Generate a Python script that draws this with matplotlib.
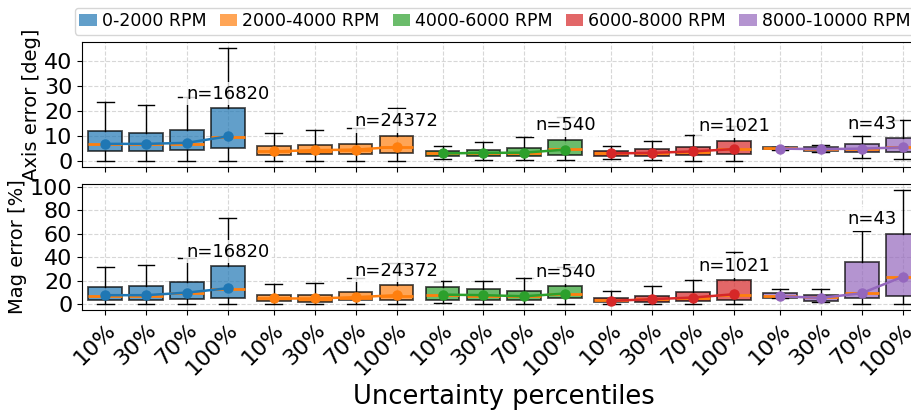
import matplotlib
matplotlib.use("Agg")
import matplotlib.pyplot as plt
from matplotlib.patches import Patch
import numpy as np

groups = ["0-2000 RPM", "2000-4000 RPM", "4000-6000 RPM", "6000-8000 RPM", "8000-10000 RPM"]
percentiles = ["10%", "30%", "70%", "100%"]
counts = [16820, 24372, 540, 1021, 43]
colors = ["tab:blue", "tab:orange", "tab:green", "tab:red", "tab:purple"]

# axis error [deg]: one row per rpm group, one column per percentile
axis_lo = [[0, 0, 0, 0], [0, 0, 0, 0], [0.7, 0.4, 0.4, 0.4], [0.7, 0.3, 0.1, 0.1], [4.6, 3.5, 1.3, 1.0]]
axis_q1 = [[4.0, 4.0, 4.3, 5.2], [2.5, 2.7, 2.9, 3.1], [2.0, 2.0, 2.2, 2.6], [2.0, 2.0, 2.3, 2.7], [5.0, 4.2, 3.8, 3.5]]
axis_med = [[6.9, 6.9, 7.0, 9.6], [3.9, 4.2, 4.5, 5.5], [3.1, 3.3, 3.3, 4.7], [3.1, 3.2, 3.8, 4.7], [5.2, 4.8, 5.0, 5.5]]
axis_q3 = [[11.9, 11.2, 12.6, 21.1], [6.0, 6.4, 6.9, 10.2], [4.2, 4.6, 5.3, 8.6], [4.0, 4.7, 5.7, 8.1], [5.5, 5.6, 6.9, 9.1]]
axis_hi = [[23.5, 22.2, 25.4, 45.2], [11.3, 12.4, 13.4, 21.1], [5.9, 7.7, 9.5, 17.6], [6.1, 8.2, 10.4, 14.0], [5.6, 6.4, 10.2, 16.4]]
axis_mean = [[6.9, 6.9, 7.3, 9.9], [3.9, 4.4, 4.6, 5.7], [3.1, 3.3, 3.4, 4.6], [3.1, 3.3, 3.9, 4.8], [5.0, 4.8, 5.0, 5.5]]

# magnitude error [%]
mag_lo = [[0, 0, 0, 0], [0, 0, 0, 0], [0.8, 0, 0, 0], [0, 0, 0, 0], [5.0, 2.0, 0.3, 0]]
mag_q1 = [[3.6, 3.6, 4.2, 5.6], [2.5, 2.2, 3.1, 3.4], [3.4, 3.6, 3.4, 4.8], [1.4, 2.0, 2.5, 3.4], [5.6, 2.5, 5.3, 7.0]]
mag_med = [[7.3, 7.3, 9.3, 13.2], [4.8, 4.6, 5.6, 7.3], [8.1, 7.3, 6.5, 9.0], [3.4, 4.0, 5.4, 8.1], [6.7, 5.9, 9.3, 23.3]]
mag_q3 = [[14.9, 15.4, 18.8, 32.3], [8.1, 8.1, 10.1, 16.0], [14.3, 12.6, 11.5, 15.1], [5.6, 7.3, 10.1, 20.2], [9.3, 8.1, 36.2, 60.0]]
mag_hi = [[32.0, 33.4, 39.0, 73.2], [17.4, 18.2, 22.0, 35.0], [19.4, 19.4, 21.9, 31.4], [11.2, 15.7, 20.2, 44.6], [13.2, 13.2, 62.3, 97.3]]
mag_mean = [[7.6, 7.6, 9.8, 13.5], [4.8, 4.8, 5.9, 7.6], [8.1, 7.6, 6.7, 9.0], [2.8, 4.2, 5.6, 8.4], [6.7, 5.3, 9.3, 23.3]]

STEP = 0.2425   # spacing of boxes inside a group
WIDTH = 0.2


def draw_panel(ax, lo, q1, med, q3, hi, mean):
    for g in range(len(groups)):
        pos = g + (np.arange(4) - 1.5) * STEP
        stats = []
        for i in range(4):
            stats.append(dict(whislo=lo[g][i], q1=q1[g][i], med=med[g][i],
                              q3=q3[g][i], whishi=hi[g][i], fliers=[]))
        bp = ax.bxp(stats, positions=pos, widths=WIDTH, patch_artist=True,
                    showfliers=False, manage_ticks=False,
                    boxprops=dict(linewidth=1.3),
                    medianprops=dict(color="tab:orange", linewidth=2))
        for patch in bp["boxes"]:
            patch.set_facecolor(colors[g])
            patch.set_alpha(0.7)
        ax.plot(pos, mean[g], "-o", color=colors[g], lw=1.8, ms=6.5, zorder=5)
        # keep the last label inside the visible area
        dx = -22 if g == len(groups) - 1 else 0
        ax.annotate("n=%d" % counts[g], xy=(pos[-1], q3[g][-1]), xytext=(dx, 4),
                    textcoords="offset points", ha="center", va="bottom", fontsize=13,
                    zorder=6,
                    bbox=dict(boxstyle="square,pad=0.15", fc="white", ec="none", alpha=0.8))
    ax.set_xlim(-0.5, len(groups) - 0.5)
    ax.grid(True, linestyle="--", color="lightgray", alpha=0.9)
    ax.set_axisbelow(True)
    ax.tick_params(labelsize=16)


fig = plt.figure(figsize=(9.12, 4.12), dpi=100)
ax1 = fig.add_axes([0.09, 0.595, 0.925, 0.303])
ax2 = fig.add_axes([0.09, 0.248, 0.925, 0.305], sharex=ax1)

draw_panel(ax1, axis_lo, axis_q1, axis_med, axis_q3, axis_hi, axis_mean)
draw_panel(ax2, mag_lo, mag_q1, mag_med, mag_q3, mag_hi, mag_mean)

ticks = [g + (i - 1.5) * STEP for g in range(len(groups)) for i in range(4)]
ax2.set_xticks(ticks)
ax2.set_xticklabels(percentiles * len(groups), rotation=45, ha="right",
                    rotation_mode="anchor", fontsize=16)
ax1.tick_params(labelbottom=False)
ax1.set_yticks([0, 10, 20, 30, 40])
ax2.set_yticks([0, 20, 40, 60, 80, 100])

ax1.set_ylabel("Axis error [deg]", fontsize=14, labelpad=2)
ax2.set_ylabel("Mag error [%]", fontsize=14, labelpad=2)
ax2.set_xlabel("Uncertainty percentiles", fontsize=18.5)

handles = [Patch(facecolor=c, alpha=0.7, label=l) for c, l in zip(colors, groups)]
fig.legend(handles=handles, loc="upper left", bbox_to_anchor=(75 / 912, 1 - 8 / 412),
           borderaxespad=0, ncol=5, fontsize=12.5, handlelength=1.0, borderpad=0.25,
           handletextpad=0.3, columnspacing=0.75)

fig.savefig("out.png", dpi=100)
